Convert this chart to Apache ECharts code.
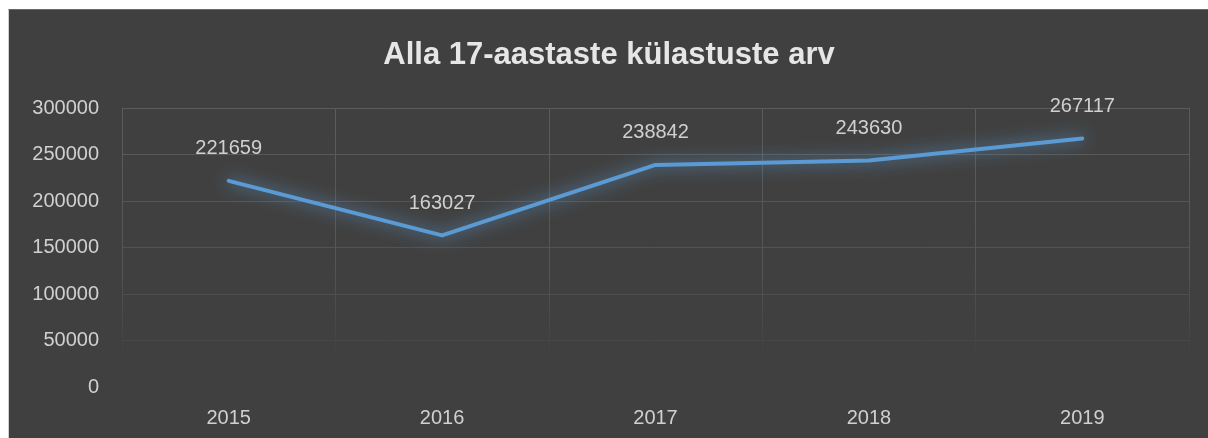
<!DOCTYPE html>
<html>
<head>
<meta charset="utf-8">
<script src="https://cdn.jsdelivr.net/npm/echarts@6/dist/echarts.min.js"></script>
<style>
  html, body { margin: 0; padding: 0; background: #ffffff; }
  #chart {
    position: absolute; left: 8px; top: 9px;
    width: 1200px; height: 429px;
    background: #404040;
    border-top: 1px solid #6a6a6a;
    border-left: 1px solid #cfcfcf;
  }
</style>
</head>
<body>
<div id="chart"></div>
<script>
// andmed
var years = ['2015', '2016', '2017', '2018', '2019'];
var visits = [221659, 163027, 238842, 243630, 267117];
var yTicks = [0, 50000, 100000, 150000, 200000, 250000, 300000];
// horisontaalsed jooned alt üles, ülemised heledamad
var hLineColors = ['#404040', '#474747', '#4e4e4e', '#535353', '#565656', '#595959', '#5c5c5c'];

var myChart = echarts.init(document.getElementById('chart'), null, { renderer: 'canvas' });

var option = {
  backgroundColor: 'transparent',
  textStyle: { fontFamily: 'Liberation Sans' },
  title: {
    text: 'Alla 17-aastaste külastuste arv',
    left: 'center',
    top: 25,
    textStyle: {
      color: '#e6e6e6',
      fontSize: 31,
      fontWeight: 'bold',
      fontFamily: 'Liberation Sans'
    }
  },
  grid: {
    left: 113,
    right: 20,
    top: 98,
    bottom: 52,
    containLabel: false
  },
  xAxis: {
    type: 'category',
    data: years,
    boundaryGap: true,
    axisLine: { show: false },
    axisTick: { show: false },
    axisLabel: {
      color: '#d0d0d0',
      fontSize: 20,
      margin: 21
    },
    splitLine: {
      show: true,
      lineStyle: {
        width: 1,
        color: {
          type: 'linear', x: 0, y: 0, x2: 0, y2: 1,
          colorStops: [
            { offset: 0, color: '#5c5c5c' },
            { offset: 0.55, color: '#565656' },
            { offset: 0.9, color: '#404040' },
            { offset: 1, color: '#404040' }
          ]
        }
      }
    }
  },
  yAxis: {
    type: 'value',
    min: yTicks[0],
    max: yTicks[yTicks.length - 1],
    interval: yTicks[1] - yTicks[0],
    axisLine: { show: false },
    axisTick: { show: false },
    axisLabel: {
      color: '#d0d0d0',
      fontSize: 20,
      margin: 23,
      formatter: function (v) { return String(v); }
    },
    splitLine: {
      show: true,
      lineStyle: { width: 1, color: hLineColors }
    }
  },
  series: [{
    name: 'Külastused',
    type: 'line',
    data: visits,
    symbol: 'circle',
    symbolSize: 2,
    showSymbol: true,
    itemStyle: { color: '#5b9bd5' },
    lineStyle: {
      color: '#5b9bd5',
      width: 4,
      cap: 'round',
      join: 'round',
      shadowColor: 'rgba(91,155,213,1)',
      shadowBlur: 16
    },
    label: {
      show: true,
      position: 'top',
      distance: 21,
      color: '#d0d0d0',
      fontSize: 20
    },
    animation: false
  }]
};

myChart.setOption(option, true);
</script>
</body>
</html>
